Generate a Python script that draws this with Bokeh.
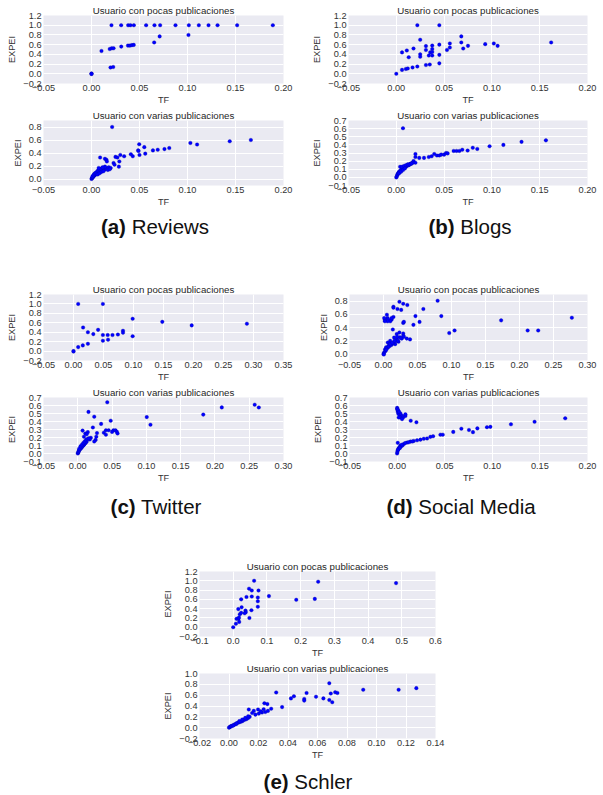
from bokeh.plotting import figure
from bokeh.layouts import column, row
from bokeh.models import Div, Range1d, FixedTicker, Spacer
from bokeh.embed import file_html
from bokeh.resources import INLINE

# ---------------- data ----------------
# (a) Reviews - pocas
a1_tf = [0.0, 0.0, 0.0, 0.0208, 0.0309, 0.0382, 0.0406, 0.0441, 0.0569, 0.0656, 0.0715, 0.0875, 0.1014,
         0.1118, 0.1219, 0.1313, 0.1517, 0.1889, 0.0104, 0.019, 0.021, 0.023, 0.031, 0.038, 0.040, 0.042,
         0.044, 0.0653, 0.071, 0.101, 0.0198, 0.0226]
a1_ex = [0.0, 0.005, -0.005, 1.0, 1.0, 1.0, 1.0, 1.0, 1.0, 1.0, 1.0, 1.0, 1.0,
         1.0, 1.0, 1.0, 1.0, 1.0, 0.47, 0.51, 0.525, 0.525, 0.56, 0.58, 0.58, 0.59,
         0.595, 0.645, 0.77, 0.80, 0.13, 0.14]
# (a) Reviews - varias
a2_tf = [0.0215, 0.0497, 0.055, 0.0486, 0.049, 0.05, 0.056, 0.064, 0.069, 0.076, 0.081, 0.103, 0.110, 0.144,
         0.166, 0.041, 0.043, 0.034, 0.025, 0.027, 0.030, 0.029, 0.0285, 0.023, 0.024, 0.009, 0.014, 0.0156,
         0.016, 0.000, 0.0005, 0.001, 0.0015, 0.002, 0.0025, 0.003, 0.0035, 0.004, 0.005, 0.006, 0.007,
         0.008, 0.009, 0.010, 0.011, 0.012, 0.013, 0.014, 0.015, 0.016, 0.018, 0.020, 0.001, 0.002, 0.003,
         0.004, 0.005, 0.006, 0.007, 0.008, 0.010, 0.012, 0.014, 0.0065, 0.0085, 0.0105, 0.0125, 0.017,
         0.019, 0.0075, 0.0115]
a2_ex = [0.80, 0.535, 0.49, 0.44, 0.43, 0.37, 0.39, 0.44, 0.45, 0.46, 0.476, 0.555, 0.53, 0.58,
         0.60, 0.38, 0.35, 0.35, 0.34, 0.33, 0.37, 0.27, 0.19, 0.245, 0.22, 0.33, 0.31, 0.295,
         0.27, 0.0, 0.01, 0.02, 0.03, 0.04, 0.05, 0.055, 0.06, 0.07, 0.08, 0.09, 0.10,
         0.11, 0.12, 0.13, 0.13, 0.14, 0.15, 0.15, 0.16, 0.17, 0.18, 0.17, 0.04, 0.06, 0.08,
         0.09, 0.10, 0.12, 0.13, 0.15, 0.16, 0.17, 0.19, 0.07, 0.09, 0.11, 0.12, 0.14,
         0.15, 0.17, 0.18]
# (b) Blogs - pocas
b1_tf = [0.0, 0.006, 0.010, 0.012, 0.017, 0.022, 0.031, 0.035, 0.045, 0.006, 0.011, 0.013, 0.018, 0.022,
         0.025, 0.025, 0.025, 0.031, 0.031, 0.034, 0.0355, 0.0376, 0.0376, 0.0376, 0.0376, 0.045, 0.045,
         0.045, 0.053, 0.056, 0.056, 0.068, 0.068, 0.070, 0.075, 0.093, 0.102, 0.106, 0.162]
b1_ex = [0.0, 0.08, 0.10, 0.11, 0.13, 0.15, 0.18, 0.19, 0.215, 0.44, 0.48, 0.34, 0.52, 1.0,
         0.70, 0.40, 0.35, 0.57, 0.49, 0.375, 0.44, 0.45, 0.51, 0.58, 0.375, 1.0, 0.60,
         0.39, 0.49, 0.625, 0.54, 0.77, 0.645, 0.52, 0.575, 0.61, 0.625, 0.575, 0.645]
# (b) Blogs - varias
b2_tf = [0.007, 0.020, 0.018, 0.020, 0.024, 0.029, 0.034, 0.037, 0.0397, 0.0425, 0.045, 0.047, 0.050,
         0.052, 0.0537, 0.060, 0.063, 0.066, 0.069, 0.0746, 0.080, 0.0847, 0.0976, 0.112, 0.131, 0.1565,
         0.020, 0.0, 0.0005, 0.001, 0.0015, 0.002, 0.0025, 0.003, 0.004, 0.005, 0.006, 0.007, 0.008,
         0.009, 0.010, 0.011, 0.012, 0.013, 0.014, 0.015, 0.016, 0.017, 0.004, 0.006, 0.008, 0.010,
         0.012, 0.014, 0.016, 0.003, 0.005, 0.007, 0.009]
b2_ex = [0.605, 0.25, 0.20, 0.18, 0.24, 0.24, 0.25, 0.26, 0.287, 0.27, 0.27, 0.28, 0.28,
         0.30, 0.295, 0.325, 0.325, 0.325, 0.34, 0.33, 0.364, 0.35, 0.383, 0.40, 0.437, 0.456,
         0.287, 0.0, 0.01, 0.03, 0.04, 0.05, 0.06, 0.07, 0.08, 0.09, 0.10, 0.11, 0.12,
         0.13, 0.13, 0.14, 0.15, 0.15, 0.16, 0.17, 0.17, 0.18, 0.13, 0.13, 0.14, 0.15,
         0.16, 0.16, 0.17, 0.05, 0.07, 0.09, 0.11]
# (c) Twitter - pocas
c1_tf = [0.0, 0.0, 0.0078, 0.0155, 0.024, 0.016, 0.0078, 0.049, 0.024, 0.033, 0.041, 0.049, 0.057, 0.065,
         0.074, 0.049, 0.0576, 0.0825, 0.0825, 0.0986, 0.0986, 0.148, 0.197, 0.289]
c1_ex = [0.0, -0.01, 0.084, 0.12, 0.154, 0.50, 1.0, 1.0, 0.40, 0.36, 0.45, 0.34, 0.34, 0.34,
         0.35, 0.22, 0.24, 0.43, 0.39, 0.685, 0.315, 0.62, 0.545, 0.58]
# (c) Twitter - varias
c2_tf = [0.043, 0.210, 0.258, 0.264, 0.183, 0.1006, 0.106, 0.0156, 0.024, 0.048, 0.034, 0.022, 0.007,
         0.0146, 0.011, 0.041, 0.045, 0.052, 0.055, 0.057, 0.058, 0.038, 0.041, 0.050, 0.028, 0.027,
         0.026, 0.024, 0.019, 0.0175, 0.0, 0.0005, 0.001, 0.0015, 0.002, 0.003, 0.004, 0.005, 0.006,
         0.007, 0.008, 0.009, 0.010, 0.011, 0.012, 0.013, 0.002, 0.004, 0.006, 0.008, 0.010, 0.012,
         0.014, 0.016, 0.009, 0.013]
c2_ex = [0.64, 0.576, 0.61, 0.576, 0.486, 0.455, 0.36, 0.52, 0.46, 0.41, 0.37, 0.325, 0.286,
         0.267, 0.25, 0.29, 0.29, 0.29, 0.29, 0.27, 0.25, 0.26, 0.235, 0.27, 0.255, 0.21,
         0.17, 0.15, 0.196, 0.176, 0.0, 0.01, 0.02, 0.03, 0.04, 0.05, 0.06, 0.07, 0.08,
         0.09, 0.10, 0.11, 0.12, 0.13, 0.14, 0.15, 0.06, 0.09, 0.11, 0.13, 0.15, 0.17,
         0.18, 0.19, 0.21, 0.24]
# (d) Social Media - pocas
d1_tf = [0.0234, 0.029, 0.035, 0.0146, 0.0146, 0.0205, 0.026, 0.0586, 0.0796, 0.085, 0.047, 0.005,
         0.006, 0.002, 0.001, 0.007, 0.012, 0.010, 0.006, 0.002, 0.0146, 0.012, 0.029, 0.030, 0.053,
         0.044, 0.0967, 0.1045, 0.173, 0.212, 0.2275, 0.277, 0.0137, 0.0195, 0.0234, 0.029, 0.029,
         0.024, 0.0195, 0.0156, 0.0098, 0.0063, 0.0122, 0.0171, 0.0220, 0.0269, 0.0342, 0.039, 0.0024,
         0.0039, 0.0059, 0.0073, 0.0088, 0.0024, 0.0010, 0.0, 0.0005, 0.004, 0.008, 0.011, 0.014, 0.017,
         0.021, 0.025, 0.030, 0.010, 0.013, 0.016, 0.020]
d1_ex = [0.79, 0.76, 0.74, 0.715, 0.70, 0.68, 0.667, 0.68, 0.805, 0.573, 0.573, 0.593,
         0.543, 0.52, 0.543, 0.52, 0.52, 0.494, 0.494, 0.494, 0.56, 0.543, 0.47, 0.485, 0.485,
         0.44, 0.316, 0.355, 0.508, 0.355, 0.355, 0.548, 0.37, 0.30, 0.325, 0.31, 0.275,
         0.252, 0.222, 0.247, 0.197, 0.173, 0.148, 0.148, 0.183, 0.232, 0.232, 0.22, 0.07,
         0.10, 0.09, 0.12, 0.15, 0.04, 0.02, 0.0, -0.01, 0.06, 0.11, 0.13, 0.16, 0.18,
         0.20, 0.24, 0.26, 0.15, 0.17, 0.20, 0.26]
# (d) Social Media - varias
d2_tf = [0.0, 0.0003, 0.0007, 0.001, 0.0017, 0.0035, 0.0052, 0.0035, 0.0017, 0.0063, 0.0087, 0.0052,
         0.0087, 0.0035, 0.0143, 0.0203, 0.0007, 0.0035, 0.007, 0.0105, 0.014, 0.0175, 0.021, 0.0245,
         0.028, 0.0315, 0.035, 0.0378, 0.0455, 0.048, 0.059, 0.0675, 0.0755, 0.0797, 0.0843, 0.0944,
         0.098, 0.1196, 0.1444, 0.1766, 0.0, 0.0003, 0.0007, 0.0014, 0.0021, 0.0028, 0.0042, 0.0056,
         0.0003, 0.0010, 0.0021, 0.0049, 0.0085, 0.0120, 0.0160, 0.0012, 0.0030]
d2_ex = [0.57, 0.55, 0.53, 0.51, 0.49, 0.47, 0.47, 0.45, 0.45, 0.45, 0.47, 0.43,
         0.49, 0.50, 0.41, 0.39, 0.133, 0.098, 0.118, 0.137, 0.149, 0.157, 0.165, 0.173,
         0.184, 0.188, 0.208, 0.216, 0.235, 0.235, 0.27, 0.31, 0.294, 0.267, 0.314, 0.329,
         0.333, 0.365, 0.396, 0.44, 0.0, 0.02, 0.04, 0.06, 0.07, 0.08, 0.09, 0.10,
         0.56, 0.54, 0.52, 0.11, 0.13, 0.14, 0.15, 0.05, 0.07]
# (e) Schler - pocas
e1_tf = [0.0, 0.008, 0.0098, 0.0157, 0.0177, 0.0197, 0.017, 0.0236, 0.015, 0.025, 0.0236, 0.0393,
         0.0364, 0.0373, 0.048, 0.054, 0.055, 0.047, 0.055, 0.062, 0.075, 0.073, 0.073, 0.073, 0.106,
         0.187, 0.242, 0.252, 0.483, 0.034]
e1_ex = [0.0, 0.075, 0.18, 0.18, 0.115, 0.28, 0.21, 0.31, 0.39, 0.43, 0.60, 0.65,
         0.36, 0.325, 0.20, 0.366, 0.66, 0.83, 0.79, 1.0, 0.79, 0.64, 0.56, 0.44, 0.67,
         0.59, 0.61, 0.98, 0.95, 0.30]
# (e) Schler - varias
e2_tf = [0.068, 0.091, 0.115, 0.127, 0.032, 0.044, 0.042, 0.0526, 0.051, 0.051, 0.059, 0.064, 0.068,
         0.069, 0.070, 0.072, 0.0735, 0.036, 0.024, 0.026, 0.0197, 0.0134, 0.0286, 0.0264, 0.0246,
         0.0224, 0.0202, 0.0157, 0.0168, 0.0179, 0.0, 0.0005, 0.001, 0.0015, 0.002, 0.003, 0.004,
         0.005, 0.006, 0.007, 0.008, 0.009, 0.010, 0.011, 0.012, 0.013, 0.014, 0.003, 0.005, 0.007,
         0.009, 0.011, 0.013, 0.0215, 0.0235]
e2_ex = [0.82, 0.70, 0.70, 0.73, 0.65, 0.58, 0.54, 0.64, 0.53, 0.50, 0.57, 0.54, 0.51,
         0.63, 0.47, 0.655, 0.64, 0.38, 0.45, 0.435, 0.336, 0.336, 0.35, 0.31, 0.29,
         0.28, 0.26, 0.27, 0.31, 0.24, 0.0, 0.01, 0.02, 0.03, 0.03, 0.05, 0.06,
         0.07, 0.09, 0.10, 0.11, 0.12, 0.14, 0.15, 0.16, 0.18, 0.20, 0.04, 0.08, 0.12,
         0.15, 0.18, 0.21, 0.30, 0.34]

# tick values
x_a = [-0.05, 0.0, 0.05, 0.1, 0.15, 0.2]
x_c1 = [-0.05, 0.0, 0.05, 0.1, 0.15, 0.2, 0.25, 0.3, 0.35]
x_c2 = [-0.05, 0.0, 0.05, 0.1, 0.15, 0.2, 0.25, 0.3]
x_e1 = [-0.1, 0.0, 0.1, 0.2, 0.3, 0.4, 0.5, 0.6]
x_e2 = [-0.02, 0.0, 0.02, 0.04, 0.06, 0.08, 0.1, 0.12, 0.14]
y_big = [-0.2, 0.0, 0.2, 0.4, 0.6, 0.8, 1.0, 1.2]
y_mid = [0.0, 0.2, 0.4, 0.6, 0.8]
y_small = [-0.1, 0.0, 0.1, 0.2, 0.3, 0.4, 0.5, 0.6, 0.7]
y_e2 = [-0.2, 0.0, 0.2, 0.4, 0.6, 0.8, 1.0]

T_POCAS = "Usuario con pocas publicaciones"
T_VARIAS = "Usuario con varias publicaciones"

FONT = "Liberation Sans"
TXT = "#333333"


def labels(ticks, dec):
    return {t: ("%.*f" % (dec, t)).replace("-", "\u2212") for t in ticks}


def make(title, tf, ex, xr, yr, xt, xdec, yt, w, left, right, h, top):
    p = figure(width=w, height=h, x_range=Range1d(*xr), y_range=Range1d(*yr),
               output_backend="svg", toolbar_location=None, title=title,
               min_border_left=left, min_border_right=right,
               min_border_top=top, min_border_bottom=22)
    p.title.align = "center"
    p.title.text_font = FONT
    p.title.text_font_size = "9.7px"
    p.title.text_font_style = "normal"
    p.title.text_color = "#262626"
    p.title.standoff = 0
    p.title.offset = 0
    p.background_fill_color = "#EAEAF2"
    p.border_fill_color = "white"
    p.outline_line_color = None
    p.xgrid.grid_line_color = "white"
    p.ygrid.grid_line_color = "white"
    p.xgrid.grid_line_width = 1
    p.ygrid.grid_line_width = 1
    p.xaxis.ticker = FixedTicker(ticks=xt)
    p.yaxis.ticker = FixedTicker(ticks=yt)
    p.xaxis.major_label_overrides = labels(xt, xdec)
    p.yaxis.major_label_overrides = labels(yt, 1)
    p.xaxis.axis_label = "TF"
    p.yaxis.axis_label = "EXPEI"
    for ax in (p.xaxis[0], p.yaxis[0]):
        ax.axis_line_color = None
        ax.major_tick_line_color = None
        ax.minor_tick_line_color = None
        ax.major_tick_out = 0
        ax.major_tick_in = 0
        ax.major_label_text_font = FONT
        ax.major_label_text_font_size = "9.2px"
        ax.major_label_text_color = TXT
        ax.axis_label_text_font = FONT
        ax.axis_label_text_font_size = "9.2px"
        ax.axis_label_text_font_style = "normal"
        ax.axis_label_text_color = TXT
    p.xaxis.major_label_standoff = 1
    p.xaxis.axis_label_standoff = 1
    p.yaxis.major_label_standoff = 2
    p.yaxis.axis_label_standoff = 3
    p.scatter(tf, ex, size=3.6, fill_color="#0000ff", line_color="#0000a0", line_width=0.3)
    return p


def caption(letter, name, w, h, pad, lh):
    html = ('<div style="width:%dpx;height:%dpx;line-height:%dpx;text-align:center;overflow:hidden;'
            'padding-left:%dpx;box-sizing:border-box;font-family:\'Liberation Sans\',Arial,sans-serif;'
            'font-size:20.5px;color:#111;white-space:nowrap;"><b>(%s)</b> %s</div>' % (w, h, lh, pad, letter, name))
    return Div(text=html, width=w, height=h, margin=0)


LW, LL, LR = 300, 43, 17
RW, RL, RR = 300, 48, 13

a1 = make(T_POCAS, a1_tf, a1_ex, (-0.05, 0.2), (-0.2, 1.2), x_a, 2, y_big, LW, LL, LR, 107, 15)
a2 = make(T_VARIAS, a2_tf, a2_ex, (-0.05, 0.2), (-0.1, 0.9), x_a, 2, y_mid, LW, LL, LR, 102, 13)
b1 = make(T_POCAS, b1_tf, b1_ex, (-0.05, 0.2), (-0.2, 1.2), x_a, 2, y_big, RW, RL, RR, 107, 15)
b2 = make(T_VARIAS, b2_tf, b2_ex, (-0.05, 0.2), (-0.1, 0.7), x_a, 2, y_small, RW, RL, RR, 102, 13)
c1 = make(T_POCAS, c1_tf, c1_ex, (-0.05, 0.35), (-0.2, 1.2), x_c1, 2, y_big, LW, LL, LR, 103, 13)
c2 = make(T_VARIAS, c2_tf, c2_ex, (-0.05, 0.3), (-0.1, 0.7), x_c2, 2, y_small, LW, LL, LR, 101, 11)
d1 = make(T_POCAS, d1_tf, d1_ex, (-0.05, 0.3), (-0.1, 0.9), x_c2, 2, y_mid, RW, RL + 1, RR, 103, 13)
d2 = make(T_VARIAS, d2_tf, d2_ex, (-0.05, 0.2), (-0.1, 0.7), x_a, 2, y_small, RW, RL + 1, RR, 101, 11)
e1 = make(T_POCAS, e1_tf, e1_ex, (-0.1, 0.6), (-0.2, 1.2), x_e1, 1, y_big, 290, 37, 15, 102, 12)
e2 = make(T_VARIAS, e2_tf, e2_ex, (-0.02, 0.14), (-0.2, 1.0), x_e2, 2, y_e2, 290, 37, 15, 102, 13)

cap_a = caption("a", "Reviews", LW, 36, 10, 36)
cap_b = caption("b", "Blogs", RW, 36, 40, 36)
cap_c = caption("c", "Twitter", LW, 44, 12, 44)
cap_d = caption("d", "Social Media", RW, 44, 22, 44)
cap_e = caption("e", "Schler", 290, 32, 6, 40)

row1 = row(column(a1, a2, cap_a), column(b1, b2, cap_b))
row2 = row(column(c1, c2, cap_c), column(d1, d2, cap_d))
row3 = row(Spacer(width=160, height=10), column(e1, e2, cap_e))

layout = column(row1, Spacer(width=10, height=36), row2, Spacer(width=10, height=29), row3)

open("out.html", "w").write(file_html(layout, INLINE))
